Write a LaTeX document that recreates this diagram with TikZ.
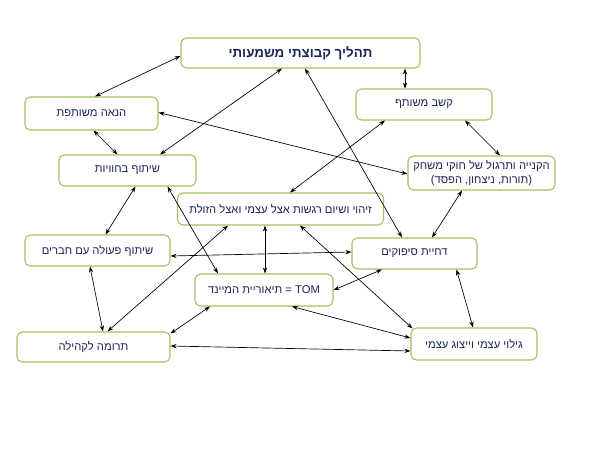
\documentclass[tikz,border=0pt]{standalone}
\usepackage{fontspec}
\usepackage{xcolor}
\usepackage{tikz}
\usetikzlibrary{arrows.meta, calc}
\TeXXeTstate=1
\newfontfamily\hebfont[Script=Hebrew]{Liberation Sans}
\newcommand{\heb}[1]{{\hebfont\beginR #1\endR}}
\definecolor{boxGreen}{HTML}{A4BF62}
\definecolor{textNavy}{HTML}{1C2557}

\begin{document}
\begin{tikzpicture}[x=0.75pt, y=-0.75pt, line cap=round, line join=round,
    stage/.style={draw=boxGreen, line width=0.8pt, rounded corners=4pt, fill=white,
      inner sep=0pt, align=center, text=textNavy, font=\fontsize{8.4}{10.3}\selectfont},
    link/.style={{Stealth[length=4.5pt,width=3.2pt]}-{Stealth[length=4.5pt,width=3.2pt]}, line width=0.5pt}]

  \useasboundingbox (0,0) rectangle (600,450);

  % Boxes
  \node[stage, minimum width=179.25pt, minimum height=22.5pt, font=\fontsize{10}{12}\selectfont\bfseries]
    (title) at (300.5,53) {\heb{תהליך קבוצתי משמעותי}};
  \node[stage, minimum width=99.75pt, minimum height=24.75pt] (enjoy) at (91.5,113.5) {\heb{הנאה משותפת}};
  \node[stage, minimum width=102pt, minimum height=23.25pt] (attention) at (424,104.5) {\heb{קשב משותף}};
  \node[stage, minimum width=110.25pt, minimum height=25.5pt] (rules) at (481.5,173)
    {\heb{הקנייה ותרגול של חוקי משחק}\\\heb{(תורות, ניצחון, הפסד)}};
  \node[stage, minimum width=102.75pt, minimum height=23.25pt] (sharing) at (127.5,170.5) {\heb{שיתוף בחוויות}};
  \node[stage, minimum width=154.5pt, minimum height=24pt] (emotions) at (280.5,209)
    {\heb{זיהוי ושיום רגשות אצל עצמי ואצל הזולת}};
  \node[stage, minimum width=108.75pt, minimum height=23.25pt] (coop) at (97.5,250.5) {\heb{שיתוף פעולה עם חברים}};
  \node[stage, minimum width=93.75pt, minimum height=23.25pt] (delay) at (414.5,253.5) {\heb{דחיית סיפוקים}};
  \node[stage, minimum width=103.5pt, minimum height=24pt] (tom) at (264,290)
    {\heb{\beginL TOM\endL{} = תיאוריית המיינד}};
  \node[stage, minimum width=114.75pt, minimum height=22.5pt] (community) at (93.5,347) {\heb{תרומה לקהילה}};
  \node[stage, minimum width=94.5pt, minimum height=24pt] (selfdisc) at (474,344) {\heb{גילוי עצמי וייצוג עצמי}};

  % Links from the title
  \draw[link] ($(title.west)+(0,3)$) -- ($(enjoy.north)+(3.5,0)$);
  \draw[link] ($(title.south)+(-18.5,0)$) -- ($(sharing.north)+(32.5,0)$);
  \draw[link] ($(title.south)+(4.5,0)$) -- ($(delay.north)+(-12.5,0)$);
  \draw[link] ($(title.south)+(104.5,0)$) -- ($(attention.north)+(-19,0)$);

  % Upper links
  \draw[link] ($(attention.south)+(-39,0)$) -- ($(emotions.north)+(9.5,0)$);
  \draw[link] ($(attention.south)+(41,0)$) -- ($(rules.north)+(18.5,0)$);
  \draw[link] ($(enjoy.east)+(0,-1)$) -- ($(rules.west)+(0,1)$);
  \draw[link] ($(enjoy.south)+(2,0)$) -- ($(sharing.north)+(-10,0)$);
  \draw[link] ($(sharing.south)+(8,0)$) -- ($(coop.north)+(8,0)$);
  \draw[link] ($(sharing.south)+(40,0)$) -- ($(tom.north)+(-46,0)$);

  % Middle links
  \draw[link] ($(emotions.south)+(-52.5,0)$) -- ($(community.north)+(14,0)$);
  \draw[link] ($(emotions.south)+(-15.5,0)$) -- ($(tom.north)+(1,0)$);
  \draw[link] ($(emotions.south)+(19.5,0)$) -- ($(selfdisc.north west)+(2,1)$);
  \draw[link] ($(rules.south)+(-19.5,0)$) -- ($(delay.north)+(17.5,0)$);
  \draw[link] ($(coop.east)+(0,5.5)$) -- ($(delay.west)+(0,-1.5)$);
  \draw[link] ($(delay.south)+(-32.5,0)$) -- (tom.east);

  % Lower links
  \draw[link] ($(delay.south)+(42,0)$) -- ($(selfdisc.north)+(-1,0)$);
  \draw[link] ($(tom.south)+(28,0)$) -- ($(selfdisc.west)+(0,-6)$);
  \draw[link] ($(tom.south)+(-54,0)$) -- ($(community.north east)+(0,2)$);
  \draw[link] ($(coop.south)+(-7.5,0)$) -- ($(community.north)+(9.5,0)$);
  \draw[link] ($(community.east)+(0,-1)$) -- ($(selfdisc.west)+(0,7)$);

\end{tikzpicture}
\end{document}
